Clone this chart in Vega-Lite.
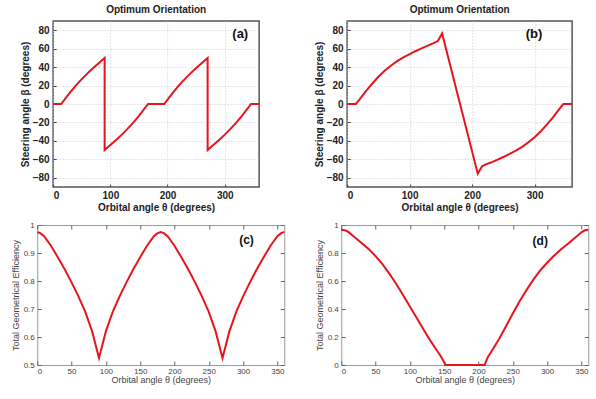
{
  "$schema": "https://vega.github.io/schema/vega-lite/v6.json",
  "padding": {"left": 10, "top": 4, "right": 0, "bottom": 0},
  "background": "white",
  "datasets": {
    "steerA": [
      {"theta": 0, "beta": 0}, {"theta": 14, "beta": 0}, {"theta": 20, "beta": 4.8}, {"theta": 30, "beta": 12.8},
      {"theta": 40, "beta": 20.2}, {"theta": 50, "beta": 27}, {"theta": 60, "beta": 33.2}, {"theta": 70, "beta": 39},
      {"theta": 80, "beta": 44.5}, {"theta": 90, "beta": 50}, {"theta": 90, "beta": -50}, {"theta": 100, "beta": -44.5},
      {"theta": 110, "beta": -39}, {"theta": 120, "beta": -33.2}, {"theta": 130, "beta": -27}, {"theta": 140, "beta": -20.2},
      {"theta": 150, "beta": -12.8}, {"theta": 160, "beta": -4.8}, {"theta": 166, "beta": 0}, {"theta": 194, "beta": 0},
      {"theta": 200, "beta": 4.8}, {"theta": 210, "beta": 12.8}, {"theta": 220, "beta": 20.2}, {"theta": 230, "beta": 27},
      {"theta": 240, "beta": 33.2}, {"theta": 250, "beta": 39}, {"theta": 260, "beta": 44.5}, {"theta": 270, "beta": 50},
      {"theta": 270, "beta": -50}, {"theta": 280, "beta": -44.5}, {"theta": 290, "beta": -39}, {"theta": 300, "beta": -33.2},
      {"theta": 310, "beta": -27}, {"theta": 320, "beta": -20.2}, {"theta": 330, "beta": -12.8}, {"theta": 340, "beta": -4.8},
      {"theta": 346, "beta": 0}, {"theta": 360, "beta": 0}
    ],
    "steerB": [
      {"theta": 0, "beta": 0}, {"theta": 14, "beta": 0}, {"theta": 20, "beta": 5}, {"theta": 30, "beta": 14},
      {"theta": 40, "beta": 22}, {"theta": 50, "beta": 29.5}, {"theta": 60, "beta": 36}, {"theta": 70, "beta": 41.5},
      {"theta": 80, "beta": 46.5}, {"theta": 90, "beta": 50.5}, {"theta": 100, "beta": 54}, {"theta": 110, "beta": 57.5},
      {"theta": 120, "beta": 60.5}, {"theta": 130, "beta": 63.5}, {"theta": 140, "beta": 66.5}, {"theta": 145, "beta": 68},
      {"theta": 152, "beta": 76.5}, {"theta": 209, "beta": -75.5}, {"theta": 216, "beta": -67.5}, {"theta": 220, "beta": -66},
      {"theta": 230, "beta": -63.5}, {"theta": 240, "beta": -60.5}, {"theta": 250, "beta": -57.5}, {"theta": 260, "beta": -54},
      {"theta": 270, "beta": -50.5}, {"theta": 280, "beta": -46.5}, {"theta": 290, "beta": -41.5}, {"theta": 300, "beta": -36},
      {"theta": 310, "beta": -29.5}, {"theta": 320, "beta": -22}, {"theta": 330, "beta": -14}, {"theta": 340, "beta": -5},
      {"theta": 346, "beta": 0}, {"theta": 360, "beta": 0}
    ],
    "effC": [
      {"theta": 0, "eff": 0.975}, {"theta": 5, "eff": 0.97}, {"theta": 10, "eff": 0.96}, {"theta": 20, "eff": 0.926},
      {"theta": 30, "eff": 0.885}, {"theta": 40, "eff": 0.842}, {"theta": 50, "eff": 0.795}, {"theta": 60, "eff": 0.745},
      {"theta": 70, "eff": 0.69}, {"theta": 80, "eff": 0.62}, {"theta": 85, "eff": 0.572}, {"theta": 90, "eff": 0.525},
      {"theta": 95, "eff": 0.572}, {"theta": 100, "eff": 0.62}, {"theta": 110, "eff": 0.69}, {"theta": 120, "eff": 0.745},
      {"theta": 130, "eff": 0.795}, {"theta": 140, "eff": 0.842}, {"theta": 150, "eff": 0.885}, {"theta": 160, "eff": 0.926},
      {"theta": 170, "eff": 0.96}, {"theta": 175, "eff": 0.97}, {"theta": 180, "eff": 0.975}, {"theta": 185, "eff": 0.97},
      {"theta": 190, "eff": 0.96}, {"theta": 200, "eff": 0.926}, {"theta": 210, "eff": 0.885}, {"theta": 220, "eff": 0.842},
      {"theta": 230, "eff": 0.795}, {"theta": 240, "eff": 0.745}, {"theta": 250, "eff": 0.69}, {"theta": 260, "eff": 0.62},
      {"theta": 265, "eff": 0.572}, {"theta": 270, "eff": 0.525}, {"theta": 275, "eff": 0.572}, {"theta": 280, "eff": 0.62},
      {"theta": 290, "eff": 0.69}, {"theta": 300, "eff": 0.745}, {"theta": 310, "eff": 0.795}, {"theta": 320, "eff": 0.842},
      {"theta": 330, "eff": 0.885}, {"theta": 340, "eff": 0.926}, {"theta": 350, "eff": 0.96}, {"theta": 355, "eff": 0.97},
      {"theta": 360, "eff": 0.975}
    ],
    "effD": [
      {"theta": 0, "eff": 0.966}, {"theta": 5, "eff": 0.963}, {"theta": 10, "eff": 0.952}, {"theta": 20, "eff": 0.91},
      {"theta": 30, "eff": 0.87}, {"theta": 40, "eff": 0.828}, {"theta": 50, "eff": 0.778}, {"theta": 60, "eff": 0.72},
      {"theta": 70, "eff": 0.653}, {"theta": 80, "eff": 0.58}, {"theta": 90, "eff": 0.5}, {"theta": 100, "eff": 0.418},
      {"theta": 110, "eff": 0.335}, {"theta": 120, "eff": 0.253}, {"theta": 130, "eff": 0.172}, {"theta": 140, "eff": 0.1},
      {"theta": 146, "eff": 0.055}, {"theta": 150, "eff": 0.02}, {"theta": 152, "eff": 0}, {"theta": 209, "eff": 0},
      {"theta": 211, "eff": 0.025}, {"theta": 214, "eff": 0.06}, {"theta": 220, "eff": 0.105}, {"theta": 230, "eff": 0.185},
      {"theta": 240, "eff": 0.275}, {"theta": 250, "eff": 0.368}, {"theta": 260, "eff": 0.455}, {"theta": 270, "eff": 0.535},
      {"theta": 280, "eff": 0.61}, {"theta": 290, "eff": 0.675}, {"theta": 300, "eff": 0.73}, {"theta": 310, "eff": 0.78},
      {"theta": 320, "eff": 0.825}, {"theta": 330, "eff": 0.865}, {"theta": 340, "eff": 0.905}, {"theta": 350, "eff": 0.948},
      {"theta": 355, "eff": 0.962}, {"theta": 360, "eff": 0.966}
    ]
  },
  "center": true,
  "spacing": 7,
  "vconcat": [
    {
      "spacing": 49,
      "align": "none",
      "hconcat": [
        {
          "width": 206, "height": 166,
          "title": {"text": "Optimum Orientation", "fontSize": 10, "fontWeight": "bold", "color": "#222", "offset": 6},
          "view": {"stroke": "#555", "strokeWidth": 1.5},
          "layer": [
            {
              "data": {"name": "steerA"},
              "mark": {"type": "line", "color": "#e8141c", "strokeWidth": 2},
              "encoding": {
                "x": {"field": "theta", "type": "quantitative", "scale": {"domain": [0, 360], "nice": false},
                      "axis": {"values": [0, 100, 200, 300], "title": "Orbital angle θ (degrees)", "grid": true, "gridColor": "#cccccc", "gridDash": [1, 2],
                               "tickSize": -3, "tickColor": "#444", "labelFontSize": 10, "labelFontWeight": "bold", "labelColor": "#222", "labelPadding": 6,
                               "titleFontSize": 10, "titleFontWeight": "bold", "titleColor": "#222", "titlePadding": 2}},
                "y": {"field": "beta", "type": "quantitative", "scale": {"domain": [-90, 90], "nice": false},
                      "axis": {"values": [-80, -60, -40, -20, 0, 20, 40, 60, 80], "labelOverlap": false, "title": "Steering angle β (degrees)", "grid": true, "gridColor": "#cccccc", "gridDash": [1, 2],
                               "tickSize": -3, "tickColor": "#444", "labelFontSize": 10, "labelFontWeight": "bold", "labelColor": "#222", "labelPadding": 7,
                               "titleFontSize": 10, "titleFontWeight": "bold", "titleColor": "#222", "titlePadding": 2}},
                "order": {"value": null}
              }
            },
            {
              "data": {"values": [{}]},
              "mark": {"type": "text", "fontSize": 13, "fontWeight": "bold", "color": "#111"},
              "encoding": {
                "x": {"datum": 327,
                      "axis": {"values": [0, 100, 200, 300], "title": "Orbital angle θ (degrees)", "grid": true, "gridColor": "#cccccc", "gridDash": [1, 2],
                               "tickSize": -3, "tickColor": "#444", "labelFontSize": 10, "labelFontWeight": "bold", "labelColor": "#222", "labelPadding": 6,
                               "titleFontSize": 10, "titleFontWeight": "bold", "titleColor": "#222", "titlePadding": 2}},
                "y": {"datum": 76,
                      "axis": {"values": [-80, -60, -40, -20, 0, 20, 40, 60, 80], "labelOverlap": false, "title": "Steering angle β (degrees)", "grid": true, "gridColor": "#cccccc", "gridDash": [1, 2],
                               "tickSize": -3, "tickColor": "#444", "labelFontSize": 10, "labelFontWeight": "bold", "labelColor": "#222", "labelPadding": 7,
                               "titleFontSize": 10, "titleFontWeight": "bold", "titleColor": "#222", "titlePadding": 2}},
                "text": {"value": "(a)"}
              }
            }
          ]
        },
        {
          "width": 225, "height": 166,
          "title": {"text": "Optimum Orientation", "fontSize": 10, "fontWeight": "bold", "color": "#222", "offset": 6},
          "view": {"stroke": "#555", "strokeWidth": 1.5},
          "layer": [
            {
              "data": {"name": "steerB"},
              "mark": {"type": "line", "color": "#e8141c", "strokeWidth": 2},
              "encoding": {
                "x": {"field": "theta", "type": "quantitative", "scale": {"domain": [0, 360], "nice": false},
                      "axis": {"values": [0, 100, 200, 300], "title": "Orbital angle θ (degrees)", "grid": true, "gridColor": "#cccccc", "gridDash": [1, 2],
                               "tickSize": -3, "tickColor": "#444", "labelFontSize": 10, "labelFontWeight": "bold", "labelColor": "#222", "labelPadding": 6,
                               "titleFontSize": 10, "titleFontWeight": "bold", "titleColor": "#222", "titlePadding": 2}},
                "y": {"field": "beta", "type": "quantitative", "scale": {"domain": [-90, 90], "nice": false},
                      "axis": {"values": [-80, -60, -40, -20, 0, 20, 40, 60, 80], "labelOverlap": false, "title": "Steering angle β (degrees)", "grid": true, "gridColor": "#cccccc", "gridDash": [1, 2],
                               "tickSize": -3, "tickColor": "#444", "labelFontSize": 10, "labelFontWeight": "bold", "labelColor": "#222", "labelPadding": 7,
                               "titleFontSize": 10, "titleFontWeight": "bold", "titleColor": "#222", "titlePadding": 2}},
                "order": {"value": null}
              }
            },
            {
              "data": {"values": [{}]},
              "mark": {"type": "text", "fontSize": 13, "fontWeight": "bold", "color": "#111"},
              "encoding": {
                "x": {"datum": 299,
                      "axis": {"values": [0, 100, 200, 300], "title": "Orbital angle θ (degrees)", "grid": true, "gridColor": "#cccccc", "gridDash": [1, 2],
                               "tickSize": -3, "tickColor": "#444", "labelFontSize": 10, "labelFontWeight": "bold", "labelColor": "#222", "labelPadding": 6,
                               "titleFontSize": 10, "titleFontWeight": "bold", "titleColor": "#222", "titlePadding": 2}},
                "y": {"datum": 76,
                      "axis": {"values": [-80, -60, -40, -20, 0, 20, 40, 60, 80], "labelOverlap": false, "title": "Steering angle β (degrees)", "grid": true, "gridColor": "#cccccc", "gridDash": [1, 2],
                               "tickSize": -3, "tickColor": "#444", "labelFontSize": 10, "labelFontWeight": "bold", "labelColor": "#222", "labelPadding": 7,
                               "titleFontSize": 10, "titleFontWeight": "bold", "titleColor": "#222", "titlePadding": 2}},
                "text": {"value": "(b)"}
              }
            }
          ]
        }
      ]
    },
    {
      "spacing": 25,
      "align": "none",
      "hconcat": [
        {
          "width": 247, "height": 140,
          "view": {"stroke": "#9a9a9a", "strokeWidth": 1},
          "resolve": {"axis": {"x": "independent", "y": "independent"}},
          "layer": [
            {
              "data": {"name": "effC"},
              "mark": {"type": "line", "color": "#e8141c", "strokeWidth": 2},
              "encoding": {
                "x": {"field": "theta", "type": "quantitative", "scale": {"domain": [0, 360], "nice": false},
                      "axis": {"values": [0, 50, 100, 150, 200, 250, 300, 350], "title": "Orbital angle θ (degrees)",
                               "tickSize": -4, "tickColor": "#666", "labelFontSize": 8, "labelColor": "#444", "labelPadding": 6,
                               "titleFontSize": 9, "titleFontWeight": "normal", "titleColor": "#444", "titlePadding": 0}},
                "y": {"field": "eff", "type": "quantitative", "scale": {"domain": [0.5, 1], "nice": false},
                      "axis": {"values": [0.5, 0.6, 0.7, 0.8, 0.9, 1], "format": "~g", "title": "Total Geometrical Efficiency",
                               "tickSize": -4, "tickColor": "#666", "labelFontSize": 8, "labelColor": "#444", "labelPadding": 7,
                               "titleFontSize": 9, "titleFontWeight": "normal", "titleColor": "#444", "titlePadding": 3}}
              }
            },
            {
              "data": {"values": [{}]},
              "mark": {"type": "text", "fontSize": 12, "fontWeight": "bold", "color": "#111"},
              "encoding": {
                "x": {"datum": 305, "axis": {"orient": "top", "values": [0, 50, 100, 150, 200, 250, 300, 350], "labels": false, "title": null, "tickSize": -4, "tickColor": "#666", "labelPadding": 0, "minExtent": 0, "maxExtent": 0}},
                "y": {"datum": 0.946, "axis": {"orient": "right", "values": [0.5, 0.6, 0.7, 0.8, 0.9, 1], "labels": false, "title": null, "tickSize": -4, "tickColor": "#666", "labelPadding": 0, "minExtent": 0, "maxExtent": 0}},
                "text": {"value": "(c)"}
              }
            }
          ]
        },
        {
          "width": 247, "height": 140,
          "view": {"stroke": "#9a9a9a", "strokeWidth": 1},
          "resolve": {"axis": {"x": "independent", "y": "independent"}},
          "layer": [
            {
              "data": {"name": "effD"},
              "mark": {"type": "line", "color": "#e8141c", "strokeWidth": 2},
              "encoding": {
                "x": {"field": "theta", "type": "quantitative", "scale": {"domain": [0, 360], "nice": false},
                      "axis": {"values": [0, 50, 100, 150, 200, 250, 300, 350], "title": "Orbital angle θ (degrees)",
                               "tickSize": -4, "tickColor": "#666", "labelFontSize": 8, "labelColor": "#444", "labelPadding": 6,
                               "titleFontSize": 9, "titleFontWeight": "normal", "titleColor": "#444", "titlePadding": 0}},
                "y": {"field": "eff", "type": "quantitative", "scale": {"domain": [0, 1], "nice": false},
                      "axis": {"values": [0, 0.2, 0.4, 0.6, 0.8, 1], "format": "~g", "title": "Total Geometrical Efficiency",
                               "tickSize": -4, "tickColor": "#666", "labelFontSize": 8, "labelColor": "#444", "labelPadding": 7,
                               "titleFontSize": 9, "titleFontWeight": "normal", "titleColor": "#444", "titlePadding": 3}}
              }
            },
            {
              "data": {"values": [{}]},
              "mark": {"type": "text", "fontSize": 12, "fontWeight": "bold", "color": "#111"},
              "encoding": {
                "x": {"datum": 290, "axis": {"orient": "top", "values": [0, 50, 100, 150, 200, 250, 300, 350], "labels": false, "title": null, "tickSize": -4, "tickColor": "#666", "labelPadding": 0, "minExtent": 0, "maxExtent": 0}},
                "y": {"datum": 0.886, "axis": {"orient": "right", "values": [0, 0.2, 0.4, 0.6, 0.8, 1], "labels": false, "title": null, "tickSize": -4, "tickColor": "#666", "labelPadding": 0, "minExtent": 0, "maxExtent": 0}},
                "text": {"value": "(d)"}
              }
            }
          ]
        }
      ]
    }
  ],
  "config": {
    "font": "Liberation Sans",
    "view": {"stroke": null},
    "axis": {"grid": false, "domain": false}
  }
}
